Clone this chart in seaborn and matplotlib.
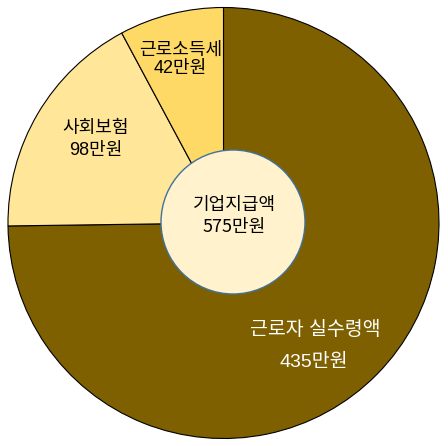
import matplotlib
matplotlib.use('Agg')
import matplotlib.pyplot as plt
from matplotlib.patches import Circle
import seaborn as sns

# 데이터 (조각 크기는 그림의 각도에서 읽은 값, 라벨은 표시된 금액)
labels = ['근로자 실수령액', '사회보험', '근로소득세']
slice_values = [430, 100, 45]
label_amounts = [435, 98, 42]
total_amount = 575
colors = ['#7F6000', '#FFE699', '#FFD966']
total_label = '기업지급액'

sns.set_theme(style='white')
plt.rcParams['font.family'] = ['Liberation Sans', 'Noto Sans CJK KR', 'DejaVu Sans']

W, H = 448, 446
fig = plt.figure(figsize=(W / 100, H / 100), dpi=100)
ax = fig.add_axes([0, 0, 1, 1])

cx, cy, r = 223.5, H - 223, 215.5
ax.pie(slice_values, colors=colors, startangle=90, counterclock=False,
       center=(cx, cy), radius=r,
       wedgeprops=dict(edgecolor='black', linewidth=0.8))
ax.set_xlim(0, W)
ax.set_ylim(0, H)
ax.set_aspect('equal')
ax.axis('off')

# 가운데 원
ax.add_patch(Circle((233, H - 222), 72, facecolor='#FFF2CC',
                    edgecolor='#41719C', linewidth=1.0, zorder=5))

def label(x, y, s, color='black', size=13, family=None):
    kw = {}
    if family:
        kw['family'] = family
    ax.text(x, H - y, s, ha='center', va='center', color=color,
            fontsize=size, zorder=6, **kw)

label(315, 330, labels[0], color='white', size=14)
label(314, 362, f'{label_amounts[0]}만원', color='white', size=14)
label(96, 128, labels[1], size=13)
label(96, 150, f'{label_amounts[1]}만원', size=13)
label(181, 50, labels[2], size=13)
label(180, 69, f'{label_amounts[2]}만원', size=13)

label(234, 205, total_label, size=13, family=['Noto Sans CJK KR'])
label(234, 227, f'{total_amount}만원', size=13, family=['Noto Sans CJK KR'])

fig.savefig('out.png', dpi=100, facecolor='white')
